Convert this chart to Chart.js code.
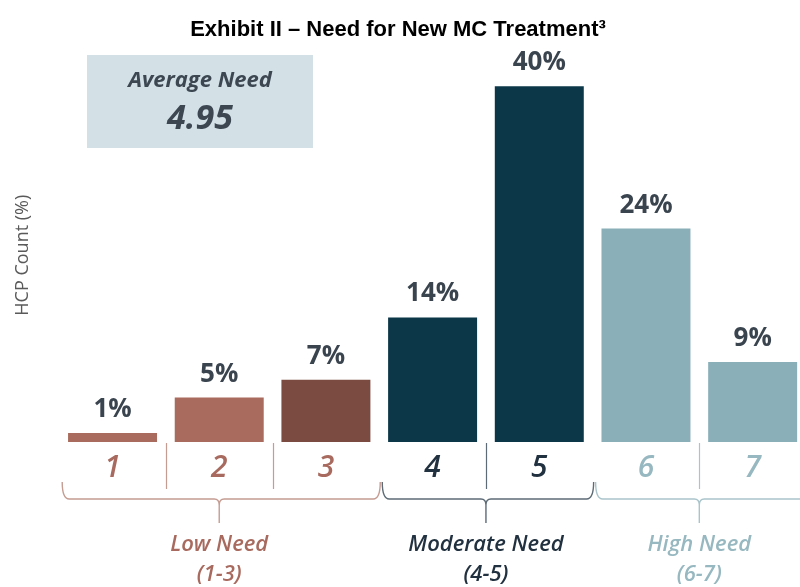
<!DOCTYPE html>
<html lang="en">
<head>
    <meta charset="UTF-8">
    <title>Exhibit II - Need for New MC Treatment</title>
    <script src="https://cdn.jsdelivr.net/npm/chart.js"></script>
    <style>
        body { margin: 0; overflow: hidden; background: #fff; }
        canvas { display: block; margin-left: -10px; }
    </style>
</head>
<body>
    <canvas id="needChart" width="816" height="587"></canvas>

    <script>
        const needLevels = ['1', '2', '3', '4', '5', '6', '7'];
        const hcpShare = [1, 5, 7, 14, 40, 24, 9];
        const groupNames = ['Low Need', 'Moderate Need', 'High Need'];
        const groupRanges = ['(1-3)', '(4-5)', '(6-7)'];
        const groupStart = [0, 3, 5];
        const groupEnd = [2, 4, 6];
        const averageNeed = '4.95';

        // colours
        const barColors = ['#A96B5D', '#A96B5D', '#7B4B41', '#0B3749', '#0B3749', '#8AAFB8', '#8AAFB8'];
        const groupText = ['#A86A5E', '#22313F', '#97B8C0'];
        const groupLine = ['#C59C92', '#5C6B76', '#A9C4CB'];
        const levelGroup = [0, 0, 0, 1, 1, 2, 2];
        const FONT = '"Open Sans", sans-serif';

        const decorations = {
            id: 'decorations',
            afterDatasetsDraw(chart) {
                const ctx = chart.ctx;
                const x = chart.scales.x;
                const area = chart.chartArea;
                const meta = chart.getDatasetMeta(0);
                const step = x.getPixelForValue(1) - x.getPixelForValue(0);

                ctx.save();
                // value labels above bars
                ctx.font = 'bold 26px ' + FONT;
                ctx.fillStyle = '#3A444F';
                ctx.textAlign = 'center';
                ctx.textBaseline = 'alphabetic';
                meta.data.forEach((bar, i) => {
                    ctx.fillText(hcpShare[i] + '%', bar.x, bar.y - 16);
                });

                // average need box
                ctx.fillStyle = '#D3E0E6';
                ctx.fillRect(97, 55, 226, 93);
                ctx.fillStyle = '#3C4752';
                ctx.font = 'italic bold 22px ' + FONT;
                ctx.textBaseline = 'middle';
                ctx.fillText('Average Need', 210, 81);
                ctx.font = 'italic bold 34px ' + FONT;
                ctx.fillText(averageNeed, 210, 119);

                // separators inside each group
                ctx.lineWidth = 1.2;
                for (let i = 1; i < needLevels.length; i++) {
                    if (levelGroup[i] !== levelGroup[i - 1]) continue;
                    const sx = Math.round((x.getPixelForValue(i - 1) + x.getPixelForValue(i)) / 2) + 0.5;
                    ctx.strokeStyle = groupLine[levelGroup[i]];
                    ctx.beginPath();
                    ctx.moveTo(sx, area.bottom + 1);
                    ctx.lineTo(sx, area.bottom + 47);
                    ctx.stroke();
                }

                // brackets and group names
                const yLine = 499, yEnd = 482, yTip = 523;
                groupNames.forEach((name, g) => {
                    const x0 = x.getPixelForValue(groupStart[g]) - step / 2 + 3;
                    const x1 = x.getPixelForValue(groupEnd[g]) + step / 2 + 1;
                    const cx = (x.getPixelForValue(groupStart[g]) + x.getPixelForValue(groupEnd[g])) / 2;
                    ctx.strokeStyle = groupLine[g];
                    ctx.lineWidth = 1.4;
                    ctx.beginPath();
                    ctx.moveTo(x0, yEnd);
                    ctx.quadraticCurveTo(x0, yLine, x0 + 7, yLine);
                    ctx.lineTo(cx - 5, yLine);
                    ctx.quadraticCurveTo(cx, yLine, cx, yLine + 6);
                    ctx.lineTo(cx, yTip);
                    ctx.moveTo(cx, yLine + 6);
                    ctx.quadraticCurveTo(cx, yLine, cx + 5, yLine);
                    ctx.lineTo(x1 - 7, yLine);
                    ctx.quadraticCurveTo(x1, yLine, x1, yEnd);
                    ctx.stroke();

                    ctx.fillStyle = groupText[g];
                    ctx.font = 'italic 600 22px ' + FONT;
                    ctx.fillText(name, cx, 545);
                    ctx.fillText(groupRanges[g], cx, 575);
                });
                ctx.restore();
            }
        };

        const ctx = document.getElementById('needChart').getContext('2d');
        new Chart(ctx, {
            type: 'bar',
            data: {
                labels: needLevels,
                datasets: [{
                    label: 'HCP Count (%)',
                    data: hcpShare,
                    backgroundColor: barColors,
                    borderWidth: 0,
                    categoryPercentage: 1,
                    barPercentage: 0.834
                }]
            },
            options: {
                responsive: false,
                animation: false,
                layout: { padding: { left: 0, right: 0, top: 0, bottom: 93 } },
                scales: {
                    x: {
                        grid: { display: false, drawTicks: false },
                        border: { display: false },
                        ticks: {
                            padding: 8,
                            font: { family: FONT, size: 30, style: 'italic', weight: '600' },
                            color: (c) => groupText[levelGroup[c.index]]
                        }
                    },
                    y: {
                        min: 0,
                        max: 42,
                        grid: { display: false, drawTicks: false },
                        border: { display: false },
                        ticks: { display: false },
                        title: {
                            display: true,
                            text: 'HCP Count (%)',
                            color: '#5A5A5A',
                            font: { family: FONT, size: 18 },
                            padding: { top: 22, bottom: 25.6 }
                        }
                    }
                },
                plugins: {
                    legend: { display: false },
                    tooltip: { enabled: false },
                    title: {
                        display: true,
                        text: 'Exhibit II \u2013 Need for New MC Treatment\u00B3',
                        color: '#000',
                        font: { family: '"Liberation Sans", Arial, sans-serif', size: 22, weight: 'bold' },
                        padding: { top: 17, bottom: 25 }
                    }
                }
            },
            plugins: [decorations]
        });
    </script>
</body>
</html>
